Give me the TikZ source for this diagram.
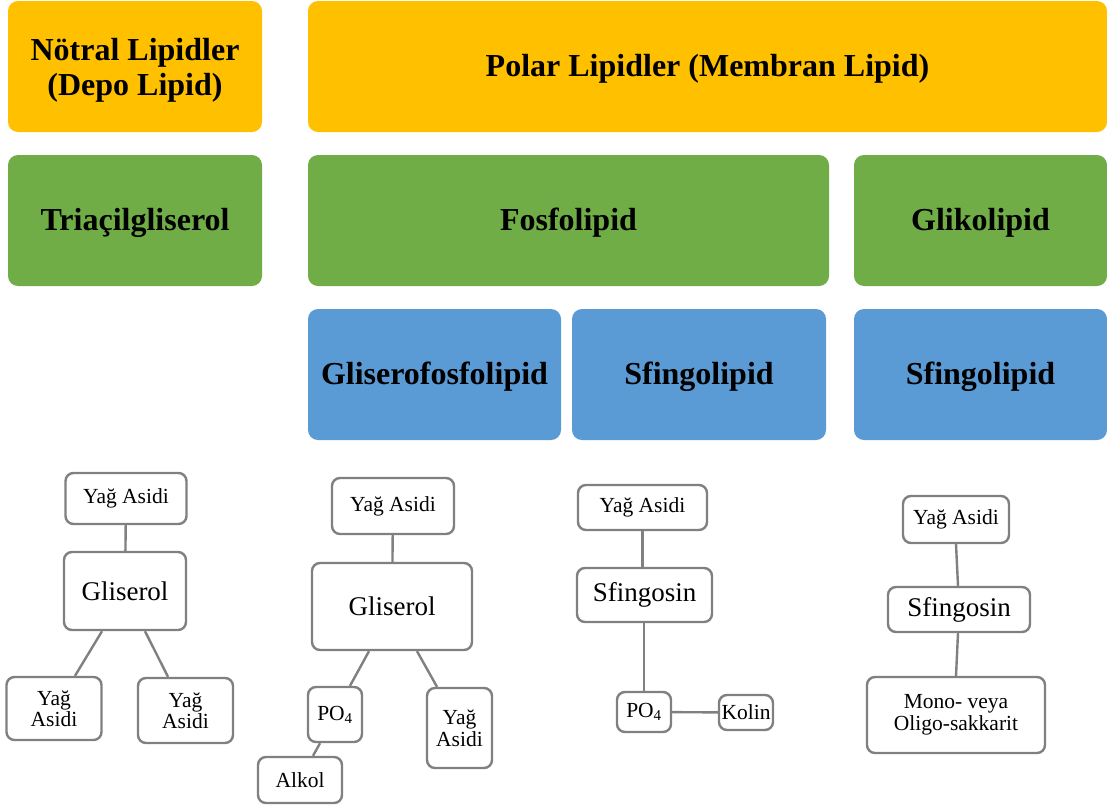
\documentclass[tikz,border=0pt]{standalone}
\usepackage{fontspec}
\setmainfont{Liberation Serif}
\definecolor{cOrange}{HTML}{FFC000}
\definecolor{cGreen}{HTML}{70AD47}
\definecolor{cBlue}{HTML}{5B9BD5}
\definecolor{cGray}{HTML}{808080}
\begin{document}
\begin{tikzpicture}[x=1pt,y=-1pt,
  bigbox/.style={rounded corners=10pt, inner sep=0pt, align=center,
    font=\bfseries\fontsize{32}{33}\selectfont, text=black},
  onetext/.style={text height=22pt, text depth=3pt},
  obox/.style={bigbox, fill=cOrange},
  gbox/.style={bigbox, onetext, fill=cGreen},
  bbox/.style={bigbox, onetext, fill=cBlue},
  sbox/.style={draw=cGray, line width=2.4pt, rounded corners=8pt, fill=white,
    inner sep=0pt, align=center, font=\fontsize{21.5}{21.5}\selectfont},
  lbox/.style={sbox, font=\fontsize{27}{28}\selectfont},
  link/.style={draw=cGray, line width=2.4pt}
]
\useasboundingbox (0,0) rectangle (1107,809);
\fill[white] (0,0) rectangle (1107,809);

% top row
\node[obox, minimum width=254pt, minimum height=131pt] (neut) at (135,66.5) {};
\node[bigbox, font=\bfseries\fontsize{32}{35}\selectfont] (neutT) at (135,70) {Nötral Lipidler\\(Depo Lipid)};
\node[obox, onetext, minimum width=799pt, minimum height=131pt] (polar) at (707.5,66.5) {Polar Lipidler (Membran Lipid)};
% second row
\node[gbox, minimum width=254pt, minimum height=131pt] (tri) at (135,220.5) {Triaçilgliserol};
\node[gbox, minimum width=521pt, minimum height=131pt] (fosfo) at (568.5,220.5) {Fosfolipid};
\node[gbox, minimum width=253pt, minimum height=131pt] (gliko) at (980.5,220.5) {Glikolipid};
% third row
\node[bbox, minimum width=253pt, minimum height=131pt] (glisero) at (434.5,374.5) {Gliserofosfolipid};
\node[bbox, minimum width=254pt, minimum height=131pt] (sfingoA) at (699,374.5) {Sfingolipid};
\node[bbox, minimum width=253pt, minimum height=131pt] (sfingoB) at (980.5,374.5) {Sfingolipid};

% tree 1
\node[sbox, minimum width=121pt, minimum height=51pt] (ya1) at (126,498.5) {Yağ Asidi};
\node[lbox, minimum width=122pt, minimum height=78pt] (gl1) at (125,591) {Gliserol};
\node[sbox, minimum width=95pt, minimum height=63pt] (ya1l) at (54,708.5) {Yağ\\Asidi};
\node[sbox, minimum width=95pt, minimum height=65pt] (ya1r) at (185.5,710.5) {Yağ\\Asidi};
\draw[link] (ya1) -- (gl1);
\draw[link] ([xshift=-23pt]gl1.south) -- ([xshift=21pt]ya1l.north);
\draw[link] ([xshift=20pt]gl1.south) -- ([xshift=-17.5pt]ya1r.north);

% tree 2
\node[sbox, minimum width=122pt, minimum height=56pt] (ya2) at (393,506) {Yağ Asidi};
\node[lbox, minimum width=160pt, minimum height=87pt] (gl2) at (392,606.5) {Gliserol};
\node[sbox, minimum width=54pt, minimum height=55pt] (po2) at (335,714.5) {PO\textsubscript{4}};
\node[sbox, minimum width=65pt, minimum height=80pt] (ya2r) at (459.5,728) {Yağ\\Asidi};
\node[sbox, minimum width=84pt, minimum height=46pt] (al2) at (300,780) {Alkol};
\draw[link] (ya2) -- (gl2);
\draw[link] ([xshift=-23pt]gl2.south) -- ([xshift=15pt]po2.north);
\draw[link] ([xshift=25pt]gl2.south) -- ([xshift=-22.5pt]ya2r.north);
\draw[link] ([xshift=-15pt]po2.south) -- ([xshift=13pt]al2.north);

% tree 3
\node[sbox, minimum width=129pt, minimum height=45pt] (ya3) at (642.5,507.5) {Yağ Asidi};
\node[lbox, minimum width=135pt, minimum height=54pt] (sf3) at (644.5,595) {Sfingosin};
\node[sbox, minimum width=54pt, minimum height=40pt] (po3) at (644,712) {PO\textsubscript{4}};
\node[sbox, minimum width=54pt, minimum height=35pt] (ko3) at (746,712.5) {Kolin};
\draw[link] (ya3.south) -- (ya3.south |- sf3.north);
\draw[link] (po3.north |- sf3.south) -- (po3.north);
\draw[link] (po3) -- (ko3);

% tree 4
\node[sbox, minimum width=106pt, minimum height=47pt] (ya4) at (956,519.5) {Yağ Asidi};
\node[lbox, minimum width=142pt, minimum height=45pt] (sf4) at (959,609.5) {Sfingosin};
\node[sbox, minimum width=178pt, minimum height=76pt] (mo4) at (956,715) {Mono- veya\\Oligo-sakkarit};
\draw[link] (ya4.south) -- ([xshift=-1pt]sf4.north);
\draw[link] ([xshift=-1pt]sf4.south) -- (mo4.north);
\end{tikzpicture}
\end{document}
